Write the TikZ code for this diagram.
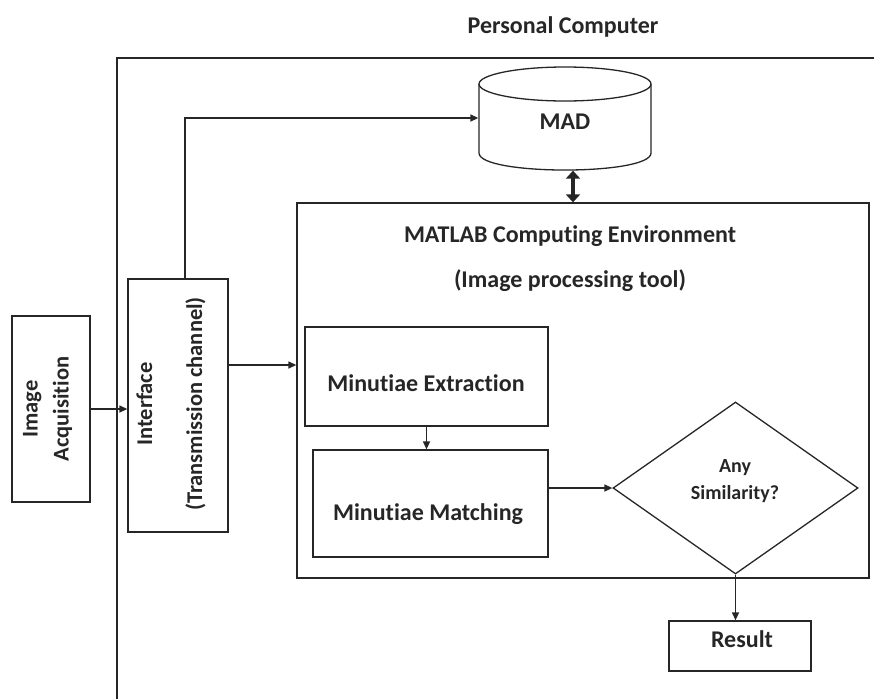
\documentclass[tikz,border=0pt]{standalone}
\usepackage{fontspec}
\setmainfont{Carlito}[Ligatures={NoCommon}]
\usetikzlibrary{arrows.meta,shapes.geometric,calc}
\begin{document}
\begin{tikzpicture}[x=1pt,y=-1pt,
  line width=1.3pt, color=black!85,
  box/.style={draw, rectangle, inner sep=0pt},
  lbl/.style={font=\fontsize{24}{28}\selectfont\bfseries, inner sep=0pt, text height=15.5pt, text depth=0pt},
  vlbl/.style={rotate=90, align=center, inner sep=0pt},
  arr/.style={-{Triangle[length=8pt,width=7pt]}},
  dbl/.style={{Triangle[length=8pt,width=14pt]}-{Triangle[length=8pt,width=14pt]}, line width=4pt}
]
\useasboundingbox (0,0) rectangle (874,699);

\node[lbl] (pc) at (563,26) {Personal Computer};
\draw (117,699) -- (117,58) -- (874,58);

% MAD database cylinder
\node[minimum width=172pt, minimum height=104pt, inner sep=0pt] (mad) at (565,118) {};
\draw[fill=white] (479,84) -- (479,153) .. controls (479,175.7) and (651,175.7) .. (651,153) -- (651,84);
\draw (565,84) ellipse [x radius=86pt, y radius=17pt];
\node[lbl] (madtxt) at (565,122) {MAD};

% MATLAB environment
\node[box, minimum width=572pt, minimum height=375pt] (matlab) at (583,390.5) {};
\node[lbl] (t1) at (570,235) {MATLAB Computing Environment};
\node[lbl] (t2) at (570,280) {(Image processing tool)};

% left boxes
\node[box, minimum width=78pt, minimum height=186pt] (acq) at (51,409) {};
\node[vlbl, font=\fontsize{22.5}{31}\selectfont\bfseries] (acqtxt) at (47.5,409) {Image\\Acquisition};
\node[box, minimum width=100pt, minimum height=253pt] (iface) at (178,405.5) {};
\node[vlbl, font=\fontsize{22.5}{50}\selectfont\bfseries] (ifacetxt) at (171,404) {Interface\\(Transmission channel)};

% minutiae boxes
\node[box, minimum width=243pt, minimum height=99pt] (me) at (426.5,376.5) {};
\node[lbl] (metxt) at (426,384) {Minutiae Extraction};
\node[box, minimum width=235pt, minimum height=107pt] (mm) at (430.5,503.5) {};
\node[lbl] (mmtxt) at (428,513) {Minutiae Matching};

% decision
\node[draw, diamond, minimum width=245pt, minimum height=172pt, inner sep=0pt] (dia) at (735.5,488) {};
\node[font=\fontsize{20}{27}\selectfont\bfseries, align=center, inner sep=0pt] (diatxt) at (735,481) {Any\\Similarity?};

% result
\node[box, minimum width=142pt, minimum height=50pt] (res) at (740,646) {};
\node[lbl] (restxt) at (742,640) {Result};

% connectors
\draw[arr] (acq.east) -- (acq.east -| iface.west);
\coordinate (ifout) at ($(iface.east)+(0,-40.5)$);
\draw[arr] (ifout) -- (ifout -| matlab.west);
\draw[arr] ([xshift=7pt]iface.north) |- (mad.west);
\draw[dbl] ([xshift=8pt]mad.south) -- ([xshift=8pt]mad.south |- matlab.north);
\draw[arr] (me.south) -- (me.south |- mm.north);
\draw[arr] (mm.east |- dia.west) -- (dia.west);
\draw[arr] (dia.south) -- (dia.south |- res.north);
\end{tikzpicture}
\end{document}
